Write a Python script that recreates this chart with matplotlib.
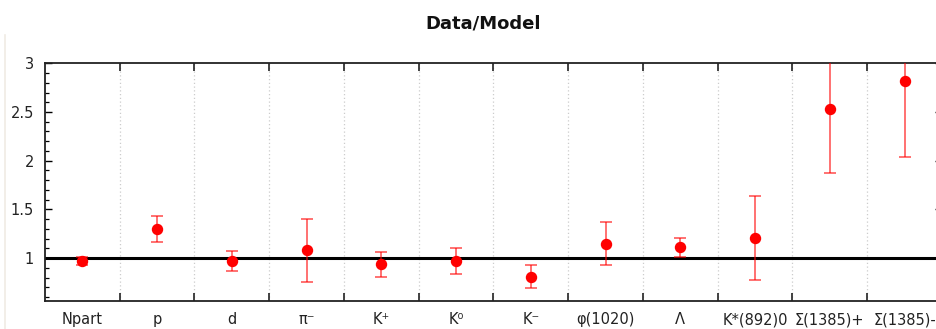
import matplotlib
matplotlib.use("Agg")
import matplotlib.pyplot as plt
from matplotlib.ticker import MultipleLocator, FixedLocator
import numpy as np

plt.rcParams["font.family"] = ["DejaVu Sans"]

categories = ["Npart", "p", "d", "π⁻", "K⁺", "K⁰", "K⁻", "φ(1020)", "Λ",
              "K*(892)0", "Σ(1385)+", "Σ(1385)-"]
ratio = [0.97, 1.30, 0.97, 1.08, 0.935, 0.97, 0.81, 1.15, 1.11, 1.205, 2.53, 2.82]
err = [0.045, 0.13, 0.10, 0.32, 0.13, 0.13, 0.12, 0.225, 0.10, 0.43, 0.66, 0.78]

W, H = 937, 329
fig = plt.figure(figsize=(W / 100, H / 100), dpi=100)
ax = fig.add_axes([45 / W, 1 - 301 / H, (942 - 45) / W, (301 - 63.3) / H])

n = len(categories)
x = np.arange(n) + 0.5

ax.axhline(1.0, color="black", lw=2.2, zorder=2)
ax.errorbar(x, ratio, yerr=err, fmt="none", ecolor=(1, 0, 0, 0.6), elinewidth=1.3,
            capsize=4, capthick=1.3, zorder=3)
ax.plot(x, ratio, "o", color="red", ms=7.2, zorder=4, clip_on=False)

ax.set_xlim(0, n)
ax.set_ylim(0.56, 3.0)

# x ticks: boundaries as major ticks, labels at centres
ax.xaxis.set_major_locator(FixedLocator(np.arange(1, n)))
ax.xaxis.set_minor_locator(FixedLocator(x))
ax.set_xticklabels([], minor=False)
ax.set_xticklabels(categories, minor=True)
ax.tick_params(axis="x", which="major", direction="in", length=6, width=1.2,
               color="#222222", top=True)
ax.tick_params(axis="x", which="minor", length=0, pad=8, labelsize=10.5,
               labelcolor="#222222")
ax.grid(axis="x", which="major", color="#cccccc", ls=(0, (1, 2)), lw=0.9)

ax.yaxis.set_major_locator(MultipleLocator(0.5))
ax.yaxis.set_minor_locator(MultipleLocator(0.1))
ax.tick_params(axis="y", which="major", direction="in", length=5, width=1.0,
               labelsize=10.5, labelcolor="#222222", right=True, pad=8)
ax.tick_params(axis="y", which="minor", direction="in", length=3, width=0.9)
ax.set_yticks([1.0, 1.5, 2.0, 2.5, 3.0])
ax.set_yticklabels(["1", "1.5", "2", "2.5", "3"])

for s in ax.spines.values():
    s.set_linewidth(1.3)
    s.set_color("#222222")

fig.text(483 / W, 1 - 23 / H, "Data/Model", ha="center", va="center",
         fontsize=13, fontweight="bold", color="#111111")

fig.add_artist(plt.Line2D([4.5 / W, 4.5 / W], [1 - 35 / H, 0], color="#f0ebe4", lw=1.2))

fig.savefig("out.png", dpi=100)
